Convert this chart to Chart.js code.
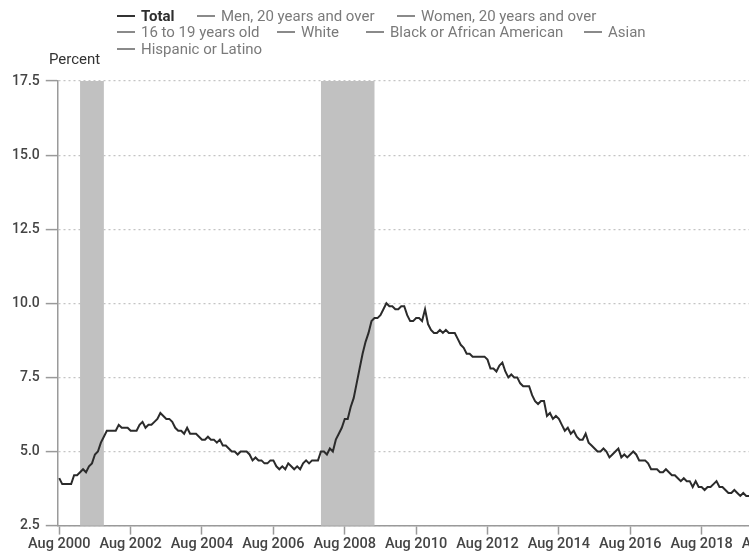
<!DOCTYPE html>
<html>
<head>
<meta charset="utf-8">
<script src="https://cdn.jsdelivr.net/npm/chart.js@4.4.0/dist/chart.umd.min.js"></script>
<style>
  html, body { margin: 0; padding: 0; overflow: hidden; background: #fff; width: 749px; height: 553px; }
  #wrap { position: absolute; left: 0; top: 0; width: 820px; height: 555px; }
  canvas { position: absolute; left: 0; top: 0; }
  .lg { position: absolute; font-family: Roboto, "Noto Sans", sans-serif; font-size: 15px; color: #7a7a7a; white-space: nowrap; line-height: 16px; }
  .lg .sw { display: inline-block; width: 18px; height: 2px; background: #8a8a8a; vertical-align: middle; margin-right: 6px; position: relative; top: -1px; }
  .lg.on { color: #2e2e2e; font-weight: 700; }
  .lg.on .sw { background: #333; }
  #ytitle { position: absolute; left: 49px; top: 50px; font-family: Roboto, sans-serif; font-size: 15px; color: #333; }
</style>
</head>
<body>
<div id="wrap">
  <canvas id="c" width="820" height="555"></canvas>
  <div id="legend"></div>
  <div id="ytitle">Percent</div>
</div>
<script>
// ---- data ----
const startMonth = { year: 2000, month: 8 }; // first observation: Aug 2000
const totalRate = [
  4.1, 3.9, 3.9, 3.9, 3.9,
  4.2, 4.2, 4.3, 4.4, 4.3, 4.5, 4.6, 4.9, 5.0, 5.3, 5.5, 5.7,
  5.7, 5.7, 5.7, 5.9, 5.8, 5.8, 5.8, 5.7, 5.7, 5.7, 5.9, 6.0,
  5.8, 5.9, 5.9, 6.0, 6.1, 6.3, 6.2, 6.1, 6.1, 6.0, 5.8, 5.7,
  5.7, 5.6, 5.8, 5.6, 5.6, 5.6, 5.5, 5.4, 5.4, 5.5, 5.4, 5.4,
  5.3, 5.4, 5.2, 5.2, 5.1, 5.0, 5.0, 4.9, 5.0, 5.0, 5.0, 4.9,
  4.7, 4.8, 4.7, 4.7, 4.6, 4.6, 4.7, 4.7, 4.5, 4.4, 4.5, 4.4,
  4.6, 4.5, 4.4, 4.5, 4.4, 4.6, 4.7, 4.6, 4.7, 4.7, 4.7, 5.0,
  5.0, 4.9, 5.1, 5.0, 5.4, 5.6, 5.8, 6.1, 6.1, 6.5, 6.8, 7.3,
  7.8, 8.3, 8.7, 9.0, 9.4, 9.5, 9.5, 9.6, 9.8, 10.0, 9.9, 9.9,
  9.8, 9.8, 9.9, 9.9, 9.6, 9.4, 9.4, 9.5, 9.5, 9.4, 9.8, 9.3,
  9.1, 9.0, 9.0, 9.1, 9.0, 9.1, 9.0, 9.0, 9.0, 8.8, 8.6, 8.5,
  8.3, 8.3, 8.2, 8.2, 8.2, 8.2, 8.2, 8.1, 7.8, 7.8, 7.7, 7.9,
  8.0, 7.7, 7.5, 7.6, 7.5, 7.5, 7.3, 7.2, 7.2, 7.2, 6.9, 6.7,
  6.6, 6.7, 6.7, 6.2, 6.3, 6.1, 6.2, 6.1, 5.9, 5.7, 5.8, 5.6,
  5.7, 5.5, 5.4, 5.4, 5.6, 5.3, 5.2, 5.1, 5.0, 5.0, 5.1, 5.0,
  4.8, 4.9, 5.0, 5.1, 4.8, 4.9, 4.8, 4.9, 5.0, 4.9, 4.7, 4.7,
  4.7, 4.6, 4.4, 4.4, 4.4, 4.3, 4.3, 4.4, 4.3, 4.2, 4.2, 4.1,
  4.0, 4.1, 4.0, 4.0, 3.8, 4.0, 3.8, 3.8, 3.7, 3.8, 3.8, 3.9,
  4.0, 3.8, 3.8, 3.7, 3.6, 3.6, 3.7, 3.6, 3.5, 3.6, 3.5, 3.5
];
const recessionStarts = [[2001, 3], [2007, 12]];
const recessionEnds   = [[2001, 11], [2009, 6]];
const seriesNames = [
  "Total", "Men, 20 years and over", "Women, 20 years and over",
  "16 to 19 years old", "White", "Black or African American", "Asian",
  "Hispanic or Latino"
];
const shownSeries = ["Total"];
const yTicks = [2.5, 5.0, 7.5, 10.0, 12.5, 15.0, 17.5];
const xTickEveryMonths = 24;
const xAxisEndMonth = [2020, 8];

// ---- helpers ----
const monthIndex = (y, m) => (y - startMonth.year) * 12 + (m - startMonth.month);
const points = totalRate.map((v, i) => ({ x: i, y: v }));
const monthLabel = i => {
  const t = startMonth.month - 1 + i;
  const names = ["Jan","Feb","Mar","Apr","May","Jun","Jul","Aug","Sep","Oct","Nov","Dec"];
  return names[((t % 12) + 12) % 12] + " " + (startMonth.year + Math.floor(t / 12));
};

// legend (HTML text)
const legendLayout = [
  [117, 8], [197, 8], [397, 8],
  [117, 24], [277, 24], [366, 24], [584, 24],
  [117, 41]
];
const lg = document.getElementById('legend');
seriesNames.forEach((n, i) => {
  const d = document.createElement('div');
  d.className = 'lg' + (shownSeries.includes(n) ? ' on' : '');
  d.style.left = legendLayout[i][0] + 'px';
  d.style.top = legendLayout[i][1] + 'px';
  d.innerHTML = '<span class="sw"></span>' + n;
  lg.appendChild(d);
});

const recessionPlugin = {
  id: 'recessions',
  beforeDatasetsDraw(chart) {
    const { ctx, scales } = chart;
    ctx.save();
    ctx.fillStyle = '#c1c1c1';
    recessionStarts.forEach((s, k) => {
      const e = recessionEnds[k];
      const x1 = scales.x.getPixelForValue(monthIndex(s[0], s[1]));
      const x2 = scales.x.getPixelForValue(monthIndex(e[0], e[1]));
      const y1 = scales.y.getPixelForValue(yTicks[yTicks.length - 1]);
      const y2 = scales.y.getPixelForValue(yTicks[0]);
      ctx.fillRect(x1, y1, x2 - x1, y2 - y1);
    });
    ctx.restore();
  }
};

new Chart(document.getElementById('c'), {
  type: 'line',
  data: {
    datasets: [{
      label: 'Total',
      data: points,
      borderColor: '#2b2b2b',
      borderWidth: 2,
      pointRadius: 0,
      tension: 0,
      fill: false
    }]
  },
  options: {
    responsive: false,
    animation: false,
    devicePixelRatio: 1,
    layout: { padding: { left: 6, top: 81, right: 47, bottom: 0 } },
    plugins: { legend: { display: false }, tooltip: { enabled: false } },
    scales: {
      x: {
        type: 'linear',
        min: -0.5,
        max: monthIndex(xAxisEndMonth[0], xAxisEndMonth[1]),
        afterBuildTicks: axis => {
          const t = [];
          for (let v = 0; v <= axis.max; v += xTickEveryMonths) t.push({ value: v });
          axis.ticks = t;
        },
        grid: { drawOnChartArea: false, drawTicks: true, tickLength: 9, tickColor: '#9a9a9a', tickWidth: 1.5 },
        border: { display: true, color: '#9a9a9a', width: 1.5 },
        ticks: {
          autoSkip: false,
          maxRotation: 0,
          padding: 1.5,
          color: '#444',
          font: { family: 'Roboto', size: 14.5, weight: 500 },
          callback: v => monthLabel(v)
        }
      },
      y: {
        min: yTicks[0],
        max: yTicks[yTicks.length - 1],
        afterBuildTicks: axis => { axis.ticks = yTicks.map(v => ({ value: v })); },
        grid: {
          color: '#c4c4c4', lineWidth: 1.2,
          drawTicks: true, tickLength: 12, tickColor: '#9a9a9a', tickWidth: 1.5, tickBorderDash: [0, 0]
        },
        border: { display: true, color: '#9a9a9a', width: 1.5, dash: [2, 3] },
        ticks: {
          padding: 6,
          color: '#444',
          font: { family: 'Roboto', size: 14, weight: 500 },
          callback: v => Number(v).toFixed(1)
        }
      }
    }
  },
  plugins: [recessionPlugin]
});
</script>
</body>
</html>
